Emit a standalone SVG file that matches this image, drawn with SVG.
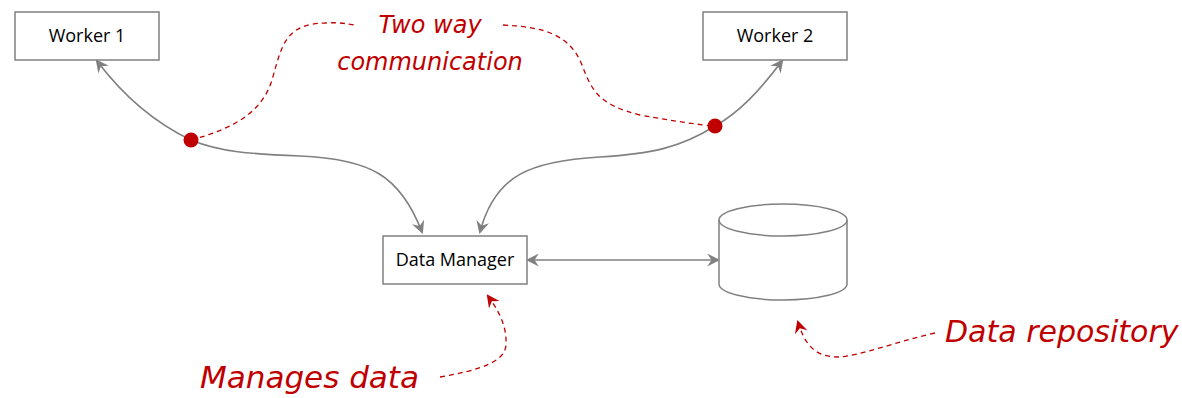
<svg xmlns="http://www.w3.org/2000/svg" width="1182" height="398" viewBox="0 0 1182 398">
  <style>
    .box { fill: #ffffff; stroke: #808080; stroke-width: 1.5; }
    .label { font-family: "Open Sans", "Noto Sans", sans-serif; font-size: 18px; fill: #000000; text-anchor: middle; }
    .link { fill: none; stroke: #808080; stroke-width: 1.6; }
    .note-line { fill: none; stroke: #c00000; stroke-width: 1.3; stroke-dasharray: 5 4; }
    .note { font-family: "DejaVu Sans", "Noto Sans", sans-serif; font-style: italic; fill: #c00000; }
  </style>
  <defs>
    <marker id="arrow" viewBox="0 0 12 12" refX="10" refY="6" markerWidth="13" markerHeight="13" markerUnits="userSpaceOnUse" orient="auto-start-reverse">
      <path d="M0,0 L12,6 L0,12 L4,6 Z" fill="#808080"/>
    </marker>
    <marker id="redArrow" viewBox="0 0 12 12" refX="10" refY="6" markerWidth="13" markerHeight="13" markerUnits="userSpaceOnUse" orient="auto">
      <path d="M0,0 L12,6 L0,12 L4,6 Z" fill="#c00000"/>
    </marker>
  </defs>

  <!-- connectors -->
  <g id="connectors">
    <path class="link" marker-start="url(#arrow)" marker-end="url(#arrow)" d="M97,61 C125,98 155,123 191,140 C220,152 250,154 300,156 C370,159 400,175 422,232"/>
    <path class="link" marker-start="url(#arrow)" marker-end="url(#arrow)" d="M782,61 C760,90 740,112 715,126 C680,148 650,154 600,157 C530,161 495,175 480,232"/>
    <path class="link" marker-start="url(#arrow)" marker-end="url(#arrow)" d="M528,260 L718,260"/>
  </g>

  <!-- nodes -->
  <g id="worker1">
    <rect class="box" x="15" y="12" width="144" height="48"/>
    <text class="label" x="87" y="42">Worker 1</text>
  </g>
  <g id="worker2">
    <rect class="box" x="703" y="12" width="144" height="48"/>
    <text class="label" x="775" y="42">Worker 2</text>
  </g>
  <g id="data-manager">
    <rect class="box" x="383" y="236" width="144" height="48"/>
    <text class="label" x="455" y="266">Data Manager</text>
  </g>
  <g id="data-repository">
    <path class="box" d="M719,220 A64,16 0 0 1 847,220 L847,284 A64,16 0 0 1 719,284 Z"/>
    <path fill="none" stroke="#808080" stroke-width="1.5" d="M719,220 A64,16 0 0 0 847,220"/>
  </g>

  <!-- annotations -->
  <g id="note-two-way">
    <path class="note-line" d="M191,140 C235,128 262,112 272,80 C282,45 285,24 325,23 C340,22 348,24 354,25"/>
    <path class="note-line" d="M503,25 C545,27 570,35 582,65 C592,92 600,105 640,115 C680,122 700,125 715,126"/>
    <circle cx="191" cy="140" r="7.5" fill="#c00000"/>
    <circle cx="715" cy="126" r="7.5" fill="#c00000"/>
    <text class="note" x="430" y="33" font-size="24" text-anchor="middle">Two way</text>
    <text class="note" x="430" y="70" font-size="24" text-anchor="middle">communication</text>
  </g>
  <g id="note-manages">
    <path class="note-line" marker-end="url(#redArrow)" d="M440,377 C480,370 505,362 506,345 C507,325 498,310 488,296"/>
    <text class="note" x="200" y="388" font-size="31">Manages data</text>
  </g>
  <g id="note-repository">
    <path class="note-line" marker-end="url(#redArrow)" d="M935,333 C895,342 860,356 838,357 C815,357 805,345 798,322"/>
    <text class="note" x="945" y="342" font-size="30">Data repository</text>
  </g>
</svg>
